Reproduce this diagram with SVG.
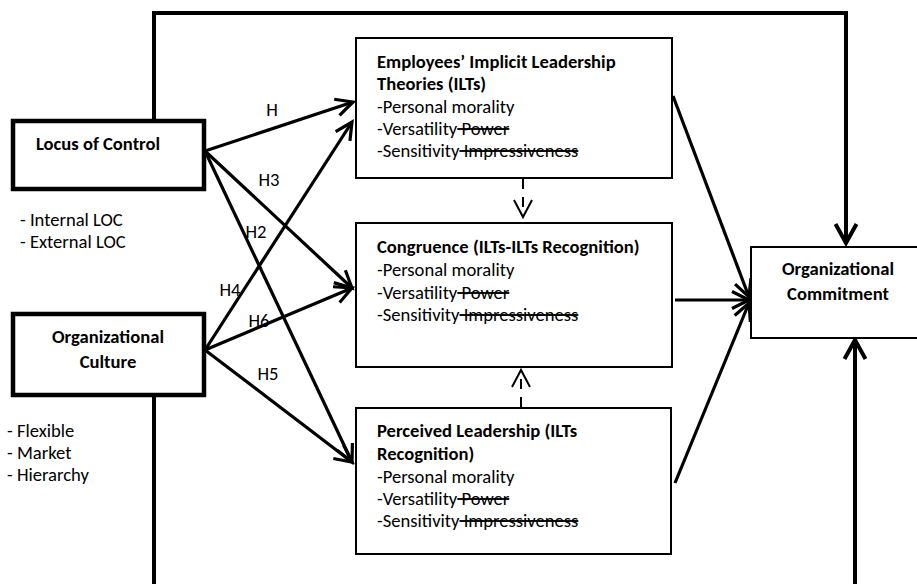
<svg xmlns="http://www.w3.org/2000/svg" width="917" height="584" viewBox="0 0 917 584">
  <style>
    .box { fill: #fff; stroke: #000; stroke-width: 2; }
    .heavy { stroke-width: 4.5; }
    .t { font-family: Carlito, Lato, "Liberation Sans", sans-serif; font-size: 18.6px; fill: #000; }
    .b { font-weight: bold; }
    .c { text-anchor: middle; }
    .s { text-decoration: line-through; }
    .route { fill: none; stroke: #000; stroke-width: 4; }
    .path { fill: none; stroke: #000; stroke-width: 3.2; }
    .dash { fill: none; stroke: #000; stroke-width: 2; stroke-dasharray: 10 8; }
  </style>
  <defs>
    <marker id="ah" viewBox="-22 -12 26 24" refX="0" refY="0" markerWidth="26" markerHeight="24" markerUnits="userSpaceOnUse" orient="auto">
      <path d="M-17,-8.5 L0,0 L-17,8.5" fill="none" stroke="#000" stroke-width="3.2"/>
    </marker>
    <marker id="ahBig" viewBox="-24 -14 28 28" refX="0" refY="0" markerWidth="28" markerHeight="28" markerUnits="userSpaceOnUse" orient="auto">
      <path d="M-19,-10.5 L0,0 L-19,10.5" fill="none" stroke="#000" stroke-width="4"/>
    </marker>
    <marker id="ahThin" viewBox="-22 -12 26 24" refX="0" refY="0" markerWidth="26" markerHeight="24" markerUnits="userSpaceOnUse" orient="auto">
      <path d="M-17,-9 L0,0 L-17,9" fill="none" stroke="#000" stroke-width="2"/>
    </marker>
  </defs>

  <!-- connectors -->
  <g id="connectors">
    <!-- outer routes to commitment -->
    <path class="route" d="M154,119 V13 H846 V243" marker-end="url(#ahBig)"/>
    <path class="route" d="M154,396 V600 H855 V340" marker-end="url(#ahBig)"/>
    <!-- hypotheses from Locus of Control -->
    <line class="path" x1="205" y1="151" x2="353" y2="102" marker-end="url(#ah)"/>
    <line class="path" x1="205" y1="151" x2="352" y2="288" marker-end="url(#ah)"/>
    <line class="path" x1="205" y1="151" x2="352" y2="462" marker-end="url(#ah)"/>
    <!-- hypotheses from Organizational Culture -->
    <line class="path" x1="205" y1="350" x2="352" y2="122" marker-end="url(#ah)"/>
    <line class="path" x1="205" y1="350" x2="352" y2="288" marker-end="url(#ah)"/>
    <line class="path" x1="205" y1="350" x2="352" y2="462" marker-end="url(#ah)"/>
    <!-- mediators to commitment -->
    <line class="path" x1="673" y1="96" x2="749" y2="297" marker-end="url(#ah)"/>
    <line class="path" x1="675" y1="300" x2="749" y2="300" marker-end="url(#ah)"/>
    <line class="path" x1="675" y1="483" x2="749" y2="303" marker-end="url(#ah)"/>
    <!-- dashed links into congruence -->
    <line class="dash" x1="523" y1="179" x2="523" y2="217" marker-end="url(#ahThin)"/>
    <line class="dash" x1="521" y1="407" x2="521" y2="370" marker-end="url(#ahThin)"/>
  </g>

  <!-- hypothesis labels -->
  <g id="labels" class="t">
    <text x="272" y="116" class="c">H</text>
    <text x="269" y="186" class="c">H3</text>
    <text x="256" y="238" class="c">H2</text>
    <text x="230" y="296" class="c">H4</text>
    <text x="259" y="327" class="c">H6</text>
    <text x="268" y="380" class="c">H5</text>
  </g>

  <g id="locus">
    <rect class="box heavy" x="13" y="121" width="191" height="68"/>
    <text class="t b" x="36" y="150">Locus of Control</text>
    <text class="t" x="20" y="226">- Internal LOC</text>
    <text class="t" x="20" y="248">- External LOC</text>
  </g>

  <g id="culture">
    <rect class="box heavy" x="13" y="314" width="191" height="81"/>
    <text class="t b c" x="108" y="343">Organizational</text>
    <text class="t b c" x="108" y="368">Culture</text>
    <text class="t" x="7" y="437">- Flexible</text>
    <text class="t" x="7" y="459">- Market</text>
    <text class="t" x="7" y="481">- Hierarchy</text>
  </g>

  <g id="ilts">
    <rect class="box" x="356" y="38" width="316" height="140"/>
    <text class="t b" x="377" y="68">Employees’ Implicit Leadership</text>
    <text class="t b" x="377" y="90">Theories (ILTs)</text>
    <text class="t" x="377" y="113">-Personal morality</text>
    <text class="t" x="377" y="135">-Versatility<tspan class="s"> Power</tspan></text>
    <text class="t" x="377" y="157">-Sensitivity<tspan class="s"> Impressiveness</tspan></text>
  </g>

  <g id="congruence">
    <rect class="box" x="356" y="223" width="316" height="144"/>
    <text class="t b" x="377" y="253">Congruence (ILTs-ILTs Recognition)</text>
    <text class="t" x="377" y="276">-Personal morality</text>
    <text class="t" x="377" y="299">-Versatility<tspan class="s"> Power</tspan></text>
    <text class="t" x="377" y="321">-Sensitivity<tspan class="s"> Impressiveness</tspan></text>
  </g>

  <g id="perceived">
    <rect class="box" x="356" y="408" width="315" height="146"/>
    <text class="t b" x="377" y="437">Perceived Leadership (ILTs</text>
    <text class="t b" x="377" y="460">Recognition)</text>
    <text class="t" x="377" y="483">-Personal morality</text>
    <text class="t" x="377" y="505">-Versatility<tspan class="s"> Power</tspan></text>
    <text class="t" x="377" y="527">-Sensitivity<tspan class="s"> Impressiveness</tspan></text>
  </g>

  <g id="commitment">
    <rect class="box" x="751" y="247" width="180" height="91"/>
    <text class="t b c" x="838" y="275">Organizational</text>
    <text class="t b c" x="838" y="300">Commitment</text>
  </g>
</svg>
